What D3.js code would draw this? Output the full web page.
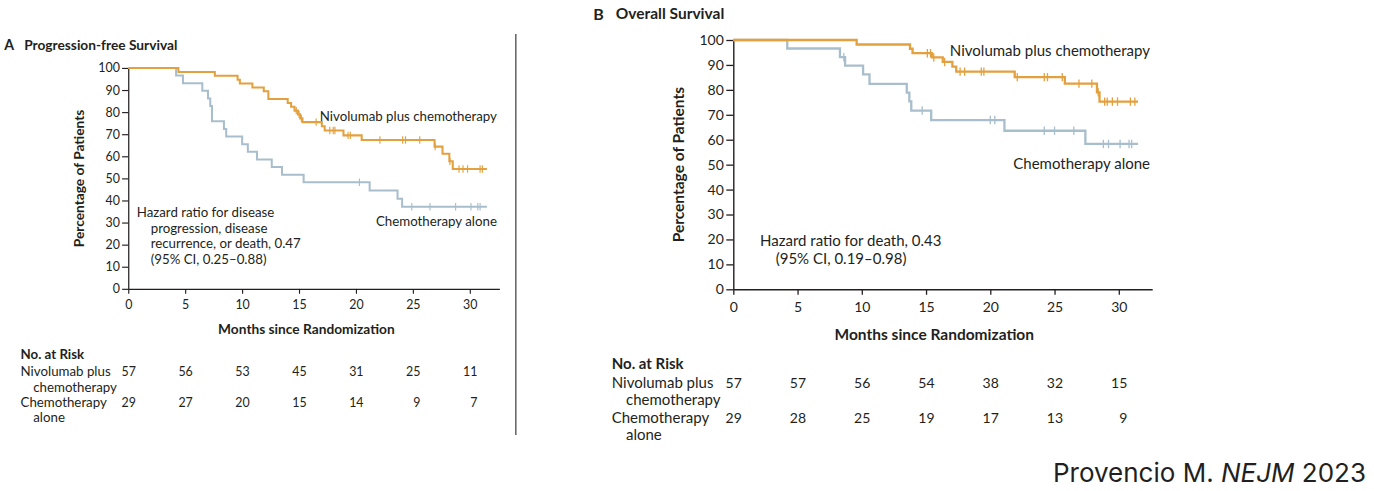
<!DOCTYPE html>
<html>
<head>
<meta charset="utf-8">
<script src="https://cdn.jsdelivr.net/npm/d3@7"></script>
<style>
  body { margin: 0; background: #fff; }
  svg { display: block; }
  text { font-family: Lato, "Noto Sans", sans-serif; fill: #231f20; }
</style>
</head>
<body>
<svg id="chart" width="1374" height="491"></svg>
<script>
// ---------------- DATA ----------------
const xTicks = [0, 5, 10, 15, 20, 25, 30];
const yTicks = [0, 10, 20, 30, 40, 50, 60, 70, 80, 90, 100];
const riskTimes = [0, 5, 10, 15, 20, 25, 30];

// Panel A: Progression-free survival
const pfsNivoTime = [0, 4.4, 7.6, 9.6, 9.8, 10.9, 11.9, 12.3, 14.0, 14.3, 14.6, 14.9, 15.1, 15.3, 17.0, 17.25, 18.9, 20.5, 26.9, 27.6, 28.2, 28.5, 31.5];
const pfsNivoSurv = [100, 98.2, 96.5, 94.7, 93.0, 91.2, 89.5, 86.0, 84.2, 82.5, 80.7, 79.0, 77.2, 75.5, 73.6, 71.7, 69.5, 67.4, 64.4, 61.2, 57.8, 54.3, 54.3];
const pfsNivoCensor = [14.75, 15.0, 15.2, 16.5, 17.7, 18.0, 18.15, 19.3, 19.5, 22.1, 24.1, 24.35, 25.6, 26.95, 28.25, 29.05, 29.4, 29.8, 30.9, 31.1];

const pfsChemoTime = [0, 4.2, 4.8, 6.5, 7.0, 7.2, 7.35, 8.4, 8.6, 10.0, 10.5, 11.3, 12.6, 13.5, 15.4, 21.2, 23.65, 24.05, 31.5];
const pfsChemoSurv = [100, 96.6, 93.1, 89.7, 86.2, 82.8, 75.9, 72.4, 69.0, 65.5, 62.1, 58.6, 55.2, 51.7, 48.3, 44.5, 40.8, 37.2, 37.2];
const pfsChemoCensor = [20.3, 24.9, 26.5, 28.75, 30.1, 30.7, 30.9];

const pfsRiskNivo = [57, 56, 53, 45, 31, 25, 11];
const pfsRiskChemo = [29, 27, 20, 15, 14, 9, 7];

// Panel B: Overall survival
const osNivoTime = [0, 9.6, 13.75, 13.95, 15.45, 16.3, 17.05, 17.35, 21.9, 25.8, 28.3, 28.5, 31.5];
const osNivoSurv = [100, 98.2, 96.5, 94.7, 93.0, 91.2, 89.3, 87.3, 85.1, 82.5, 79.0, 75.3, 75.3];
const osNivoCensor = [15.1, 15.35, 15.6, 16.45, 17.65, 18.0, 19.3, 19.5, 22.1, 24.2, 24.45, 25.6, 26.9, 27.9, 28.4, 28.9, 29.1, 29.5, 29.9, 30.9, 31.25];

const osChemoTime = [0, 4.2, 8.3, 8.7, 10.1, 10.6, 13.5, 13.7, 13.85, 15.4, 21.1, 27.4, 31.5];
const osChemoSurv = [100, 96.6, 93.1, 89.7, 86.2, 82.4, 78.9, 75.4, 71.7, 67.9, 63.6, 58.3, 58.3];
const osChemoCensor = [8.6, 14.7, 20.0, 20.35, 24.2, 25.0, 26.5, 28.8, 29.2, 30.1, 30.8, 31.0];

const osRiskNivo = [57, 57, 56, 54, 38, 32, 15];
const osRiskChemo = [29, 28, 25, 19, 17, 13, 9];

// ---------------- LAYOUT ----------------
const COLOR_NIVO = "#E3A03E";
const COLOR_CHEMO = "#A8BECC";
const INK = "#231f20";

const svg = d3.select("#chart");
svg.append("rect").attr("width", 1374).attr("height", 491).attr("fill", "#fff");

// local plot size (panel B units)
const plotW = 418.9, plotH = 249.3, xMax = 32.6;
const x = d3.scaleLinear().domain([0, xMax]).range([0, plotW]);
const y = d3.scaleLinear().domain([0, 100]).range([plotH, 0]);

function stepValue(times, surv, t) {
  let v = surv[0];
  for (let i = 0; i < times.length; i++) if (times[i] <= t) v = surv[i];
  return v;
}

function drawPanel(cfg) {
  const g = svg.append("g").attr("transform", `translate(${cfg.ox},${cfg.oy}) scale(${cfg.s})`);

  // title
  g.append("text").attr("x", -140).attr("y", -26).attr("dy", "0.35em")
    .style("font-weight", 700).style("font-size", "16px").text(cfg.letter);
  g.append("text").attr("x", -117.5).attr("y", -26).attr("dy", "0.35em")
    .style("font-weight", 700).style("font-size", "15.5px").text(cfg.title);

  // axes
  const ya = g.append("g").call(d3.axisLeft(y).tickValues(yTicks).tickSize(7).tickPadding(2.5).tickSizeOuter(0));
  const xa = g.append("g").attr("transform", `translate(0,${plotH})`)
    .call(d3.axisBottom(x).tickValues(xTicks).tickSize(5.5).tickPadding(7).tickSizeOuter(0));
  [ya, xa].forEach(a => {
    a.select(".domain").attr("stroke", INK).attr("stroke-width", 1.4);
    a.selectAll(".tick line").attr("stroke", INK).attr("stroke-width", 1.3);
    a.selectAll(".tick text").style("font-size", "14px").style("font-family", "Lato, sans-serif").attr("fill", INK);
  });

  // axis titles
  g.append("text").attr("transform", `translate(-55,${plotH / 2}) rotate(-90)`)
    .attr("text-anchor", "middle").attr("dy", "0.35em")
    .style("font-weight", 700).style("font-size", "15.5px").text("Percentage of Patients");
  g.append("text").attr("x", 201).attr("y", 294.3).attr("dy", "0.35em")
    .attr("text-anchor", "middle").style("font-weight", 700).style("font-size", "15.5px")
    .text("Months since Randomization");

  // curves
  const line = d3.line().x(d => x(d[0])).y(d => y(d[1])).curve(d3.curveStepAfter);
  cfg.series.forEach(sr => {
    const pts = sr.time.map((t, i) => [t, sr.surv[i]]);
    g.append("path").datum(pts).attr("d", line)
      .attr("fill", "none").attr("stroke", sr.color).attr("stroke-width", 2.3);
    g.selectAll(null).data(sr.censor).enter().append("line")
      .attr("x1", d => x(d)).attr("x2", d => x(d))
      .attr("y1", d => y(stepValue(sr.time, sr.surv, d)) - 4.2)
      .attr("y2", d => y(stepValue(sr.time, sr.surv, d)) + 4.2)
      .attr("stroke", sr.color).attr("stroke-width", 1.3);
  });

  // curve labels
  cfg.labels.forEach(l => {
    g.append("text").attr("x", l.x).attr("y", l.y).attr("dy", "0.35em")
      .attr("text-anchor", "end").style("font-size", "15px").text(l.text);
  });

  // hazard ratio text
  cfg.hazard.forEach(h => {
    g.append("text").attr("x", h.x).attr("y", h.y).attr("dy", "0.35em")
      .style("font-size", "15px").text(h.text);
  });

  // number at risk
  g.append("text").attr("x", -121.6).attr("y", 323.3).attr("dy", "0.35em")
    .style("font-weight", 700).style("font-size", "15px").text("No. at Risk");
  const rows = [
    { l1: "Nivolumab plus", l2: "chemotherapy", y1: 342.7, y2: 360, vals: cfg.riskNivo },
    { l1: "Chemotherapy", l2: "alone", y1: 377.7, y2: 394.5, vals: cfg.riskChemo }
  ];
  rows.forEach(r => {
    g.append("text").attr("x", -121.6).attr("y", r.y1).attr("dy", "0.35em").style("font-size", "15px").text(r.l1);
    g.append("text").attr("x", -107.3).attr("y", r.y2).attr("dy", "0.35em").style("font-size", "15px").text(r.l2);
    g.selectAll(null).data(r.vals).enter().append("text")
      .attr("x", (d, i) => x(riskTimes[i]) + 8.5).attr("y", r.y1).attr("dy", "0.35em")
      .attr("text-anchor", "end").style("font-size", "14px").text(d => d);
  });
}

drawPanel({
  ox: 128.3, oy: 68, s: 0.886, letter: "A", title: "Progression-free Survival",
  series: [
    { time: pfsChemoTime, surv: pfsChemoSurv, censor: pfsChemoCensor, color: COLOR_CHEMO },
    { time: pfsNivoTime, surv: pfsNivoSurv, censor: pfsNivoCensor, color: COLOR_NIVO }
  ],
  labels: [
    { text: "Nivolumab plus chemotherapy", x: 416.1, y: 55 },
    { text: "Chemotherapy alone", x: 416.1, y: 173.1 }
  ],
  hazard: [
    { text: "Hazard ratio for disease", x: 9.5, y: 163.3 },
    { text: "progression, disease", x: 25.3, y: 180.9 },
    { text: "recurrence, or death, 0.47", x: 25.3, y: 197.9 },
    { text: "(95% CI, 0.25\u20130.88)", x: 25.3, y: 215.9 }
  ],
  riskNivo: pfsRiskNivo, riskChemo: pfsRiskChemo
});

drawPanel({
  ox: 733.3, oy: 40, s: 1, letter: "B", title: "Overall Survival",
  series: [
    { time: osChemoTime, surv: osChemoSurv, censor: osChemoCensor, color: COLOR_CHEMO },
    { time: osNivoTime, surv: osNivoSurv, censor: osNivoCensor, color: COLOR_NIVO }
  ],
  labels: [
    { text: "Nivolumab plus chemotherapy", x: 416.7, y: 11 },
    { text: "Chemotherapy alone", x: 416.7, y: 123.3 }
  ],
  hazard: [
    { text: "Hazard ratio for death, 0.43", x: 26.7, y: 200.7 },
    { text: "(95% CI, 0.19\u20130.98)", x: 42.4, y: 218.3 }
  ],
  riskNivo: osRiskNivo, riskChemo: osRiskChemo
});

// divider
svg.append("line").attr("x1", 515.8).attr("x2", 515.8).attr("y1", 34).attr("y2", 435)
  .attr("stroke", "#6a6a6a").attr("stroke-width", 1.6);

// citation
const cite = svg.append("text").attr("x", 1366).attr("y", 482).attr("text-anchor", "end")
  .style("font-family", "Inter, 'Noto Sans', sans-serif").style("font-size", "26px").attr("fill", "#111");
cite.append("tspan").text("Provencio M. ");
cite.append("tspan").style("font-style", "italic").text("NEJM");
cite.append("tspan").text(" 2023");
</script>
</body>
</html>
